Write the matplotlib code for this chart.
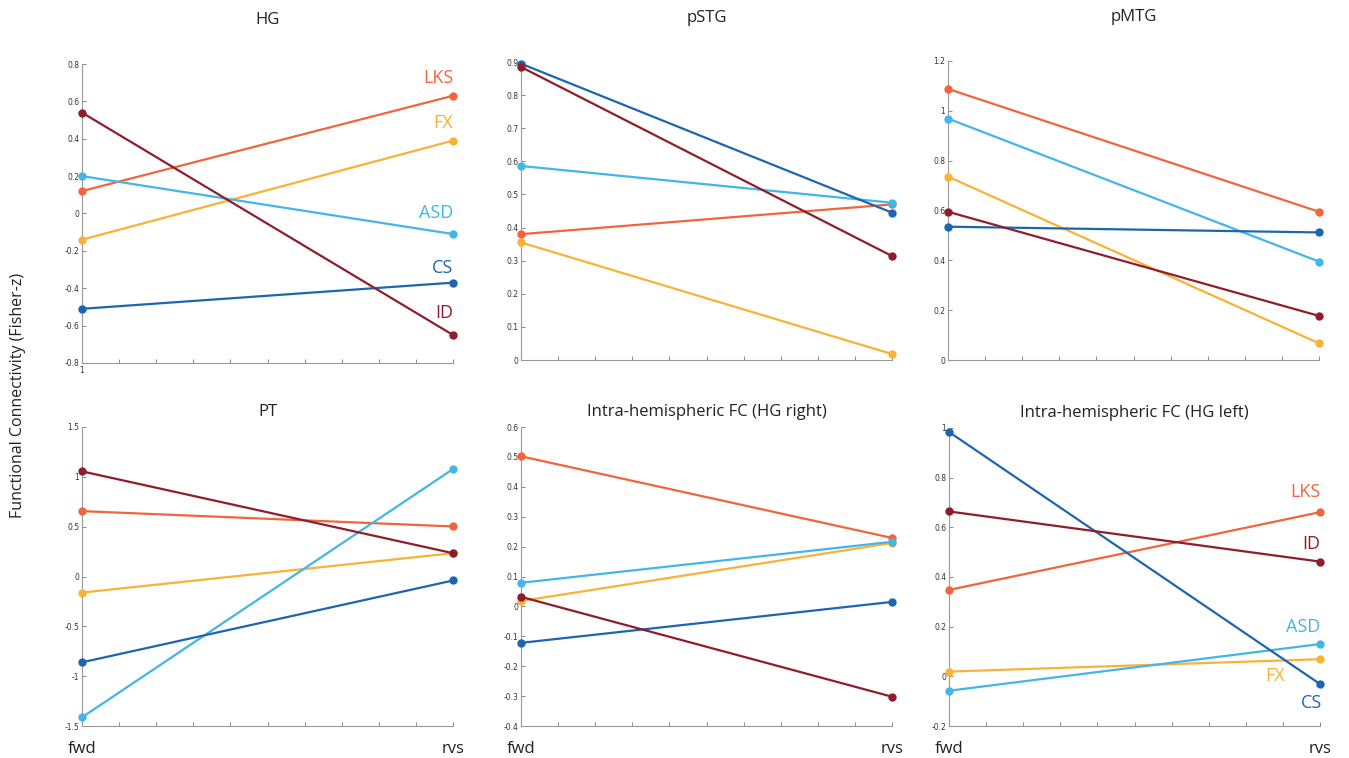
import matplotlib
matplotlib.use("Agg")
import matplotlib.pyplot as plt
import numpy as np

# groups, colours and the two conditions
groups = ["LKS", "FX", "ASD", "CS", "ID"]
colors = {"LKS": "#F0653D", "FX": "#F8B236", "ASD": "#43B6E8", "CS": "#1C66B0", "ID": "#8F1D2C"}
conditions = ["fwd", "rvs"]

# fisher-z values (fwd, rvs)
hg = {"LKS": [0.12, 0.63], "FX": [-0.14, 0.39], "ASD": [0.20, -0.11], "CS": [-0.51, -0.37], "ID": [0.54, -0.65]}
pstg = {"LKS": [0.38, 0.47], "FX": [0.355, 0.018], "ASD": [0.586, 0.475], "CS": [0.895, 0.445], "ID": [0.885, 0.314]}
pmtg = {"LKS": [1.088, 0.595], "FX": [0.736, 0.067], "ASD": [0.969, 0.395], "CS": [0.535, 0.512], "ID": [0.595, 0.177]}
pt = {"LKS": [0.656, 0.502], "FX": [-0.161, 0.234], "ASD": [-1.413, 1.078], "CS": [-0.861, -0.04], "ID": [1.055, 0.234]}
hg_right = {"LKS": [0.502, 0.229], "FX": [0.018, 0.212], "ASD": [0.079, 0.216], "CS": [-0.122, 0.015], "ID": [0.032, -0.302]}
hg_left = {"LKS": [0.348, 0.661], "FX": [0.019, 0.069], "ASD": [-0.058, 0.130], "CS": [0.984, -0.031], "ID": [0.664, 0.462]}

titles = ["HG", "pSTG", "pMTG", "PT", "Intra-hemispheric FC (HG right)", "Intra-hemispheric FC (HG left)"]
panels = [hg, pstg, pmtg, pt, hg_right, hg_left]
ylims = [(-0.8, 0.8), (0, 0.9), (0, 1.2), (-1.5, 1.5), (-0.4, 0.6), (-0.2, 1.0)]
yticks = [np.arange(-0.8, 0.81, 0.2), np.arange(0, 0.91, 0.1), np.arange(0, 1.21, 0.2),
          np.arange(-1.5, 1.51, 0.5), np.arange(-0.4, 0.61, 0.1), np.arange(-0.2, 1.01, 0.2)]

# axes rectangles in pixels: left, top, right, bottom
W, H = 1349, 758
rects = [(82, 64, 453, 363), (521, 62, 892, 360), (948, 61, 1319, 360),
         (82, 427, 453, 726), (521, 427, 892, 726), (949, 428, 1320, 726)]

# group labels drawn next to the lines (panel index: (group, y, x))
group_labels = {
    0: [("LKS", 0.725, 2.0), ("FX", 0.484, 2.0), ("ASD", 0.0, 2.0), ("CS", -0.292, 2.0), ("ID", -0.535, 2.0)],
    5: [("LKS", 0.743, 2.0), ("ID", 0.534, 2.0), ("ASD", 0.197, 2.0), ("FX", 0.0, 1.905), ("CS", -0.108, 2.005)],
}

font = "Open Sans"
fig = plt.figure(figsize=(W / 100, H / 100), dpi=100)

for i, (data, title) in enumerate(zip(panels, titles)):
    l, t, r, b = rects[i]
    ax = fig.add_axes([l / W, 1 - b / H, (r - l) / W, (b - t) / H])
    x = np.array([1.0, 2.0])
    for g in groups:
        ax.plot(x, data[g], color=colors[g], lw=1.6, marker="o", ms=5, clip_on=False, zorder=3)

    ax.set_xlim(1, 2)
    ax.set_ylim(*ylims[i])
    ax.set_xticks(np.linspace(1, 2, 11))
    ax.set_yticks(yticks[i])
    ax.set_yticklabels([f"{v:g}" if abs(v) > 1e-9 else "0" for v in yticks[i]])
    if i == 0:
        ax.set_xticklabels(["1"] + [""] * 10)
    else:
        ax.set_xticklabels([""] * 11)
    ax.tick_params(direction="in", length=3, width=0.7, colors="#888888", labelcolor="#333333",
                   labelsize=5.5, pad=2)
    for s in ["top", "right"]:
        ax.spines[s].set_visible(False)
    for s in ["left", "bottom"]:
        ax.spines[s].set_color("#999999")
        ax.spines[s].set_linewidth(0.8)

    ax.set_title(title, fontsize=12, family=font, color="#222222", pad=29 if i < 3 else 8)

    if i >= 3:
        for xv, c in zip([1.0, 2.0], conditions):
            ax.text(xv, -0.05, c, transform=ax.get_xaxis_transform(), ha="center", va="top",
                    fontsize=12, family=font, color="#222222")

    for g, yv, xv in group_labels.get(i, []):
        ax.text(xv, yv, g, ha="right", va="center", fontsize=13, family=font, color=colors[g])

fig.text(18 / W, 1 - 395 / H, "Functional Connectivity (Fisher-z)", rotation=90, ha="center",
         va="center", fontsize=11.5, family=font, color="#222222")

fig.savefig("out.png", dpi=100)
